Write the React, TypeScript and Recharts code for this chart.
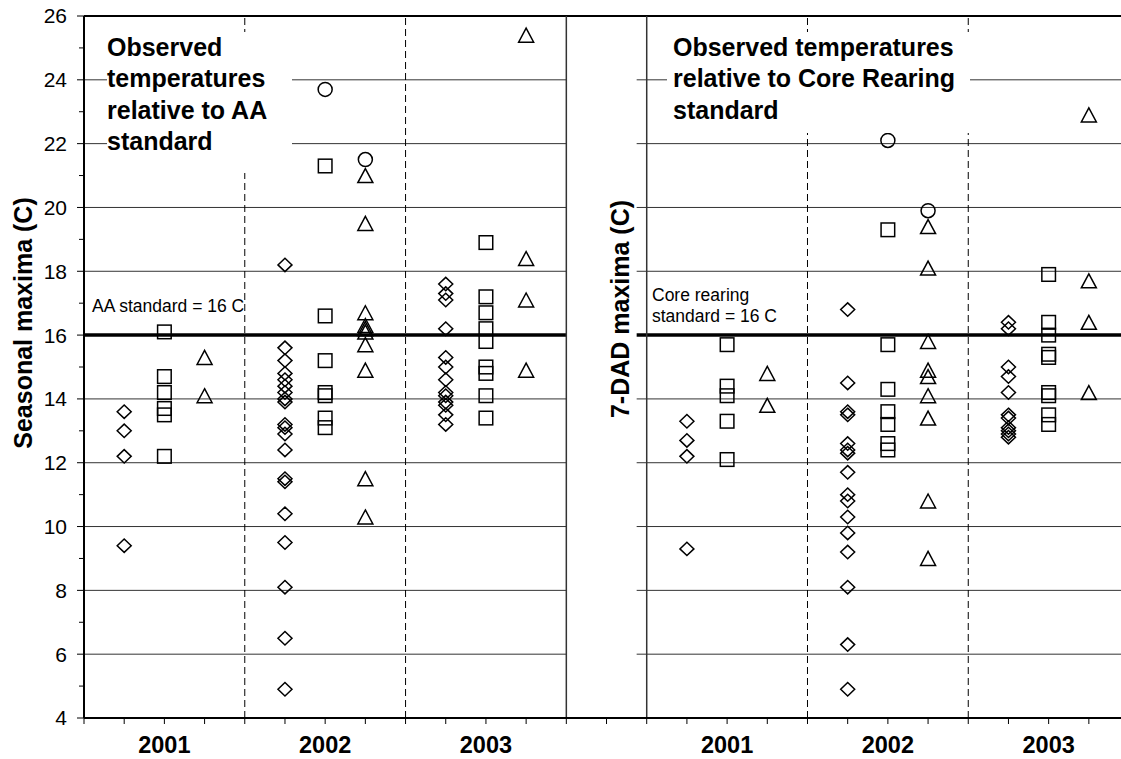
import React from 'react';
import { ScatterChart, Scatter, XAxis, YAxis, ReferenceLine } from 'recharts';

const YEARS = ['2001', '2002', '2003'];

// Seasonal maxima vs AA standard (one list per year)
const AA_DIAMOND = [
  [13.6, 13.0, 12.2, 9.4],
  [18.2, 15.6, 15.2, 14.8, 14.6, 14.4, 14.2, 14.0, 13.9, 13.2, 13.1, 12.9, 12.4, 11.5, 11.4, 10.4, 9.5, 8.1, 6.5, 4.9],
  [17.6, 17.3, 17.1, 16.2, 15.3, 15.0, 14.6, 14.2, 14.1, 13.9, 13.8, 13.5, 13.2],
];
const AA_SQUARE = [
  [16.1, 14.7, 14.2, 13.7, 13.5, 12.2],
  [21.3, 16.6, 15.2, 14.2, 14.1, 13.4, 13.1],
  [18.9, 17.2, 16.7, 16.2, 15.8, 15.0, 14.8, 14.1, 13.4],
];
const AA_TRIANGLE = [
  [15.3, 14.1],
  [21.0, 19.5, 16.7, 16.3, 16.2, 16.1, 15.7, 14.9, 11.5, 10.3],
  [25.4, 18.4, 17.1, 14.9],
];
const AA_CIRCLE_MID = [[], [23.7], []];
const AA_CIRCLE_RIGHT = [[], [21.5], []];

// 7-DAD maxima vs Core Rearing standard
const CR_DIAMOND = [
  [13.3, 12.7, 12.2, 9.3],
  [16.8, 14.5, 13.6, 13.5, 12.6, 12.4, 12.3, 11.7, 11.0, 10.8, 10.3, 9.8, 9.2, 8.1, 6.3, 4.9],
  [16.4, 16.2, 15.0, 14.7, 14.2, 13.5, 13.4, 13.1, 13.0, 12.9, 12.8],
];
const CR_SQUARE = [
  [15.7, 14.4, 14.1, 13.3, 12.1],
  [19.3, 15.7, 14.3, 13.6, 13.2, 12.6, 12.4],
  [17.9, 16.4, 16.0, 15.4, 15.3, 14.2, 14.1, 13.5, 13.2],
];
const CR_TRIANGLE = [
  [14.8, 13.8],
  [19.4, 18.1, 15.8, 14.9, 14.7, 14.1, 13.4, 10.8, 9.0],
  [22.9, 17.7, 16.4, 14.2],
];
const CR_CIRCLE_MID = [[], [22.1], []];
const CR_CIRCLE_RIGHT = [[], [19.9], []];

const STANDARD = 16;
const Y_TICKS = [4, 5, 6, 7, 8, 9, 10, 11, 12, 13, 14, 15, 16, 17, 18, 19, 20, 21, 22, 23, 24, 25, 26];
const GRID_VALUES = [6, 8, 10, 12, 14, 18, 20, 22, 24];
const X_TICKS = [0, 1, 2, 3, 4, 5, 6, 7, 8, 9, 10, 11, 12, 13, 14, 15, 16, 17, 18, 19, 20, 21, 22, 23, 24, 25];

// category layout on the shared x axis
const PANELS = [0, 14];
const YEAR_SPAN = 4;
const X_MAX = 25.8;
const RIGHT_START = 13.75;

const FONT = '"Liberation Sans", Arial, sans-serif';

const toPoints = (groups: number[][], panel: number, slot: number) =>
  groups.flatMap((vals, yi) => vals.map((v) => ({ x: panel + yi * YEAR_SPAN + slot, y: v })));

const yearAt = (v: number) => {
  for (const p of PANELS) {
    for (let i = 0; i < YEARS.length; i++) {
      if (p + i * YEAR_SPAN + 2 === v) return YEARS[i];
    }
  }
  return '';
};

const stroke = { fill: 'none', stroke: '#000', strokeWidth: 1.5 };

const diamond = (p: any) => (
  <path d={`M${p.cx},${p.cy - 6.7}L${p.cx + 7},${p.cy}L${p.cx},${p.cy + 6.7}L${p.cx - 7},${p.cy}Z`} {...stroke} />
);
const square = (p: any) => <rect x={p.cx - 6.8} y={p.cy - 6.8} width={13.6} height={13.6} {...stroke} />;
const triangle = (p: any) => (
  <path d={`M${p.cx},${p.cy - 7}L${p.cx + 7.5},${p.cy + 7}L${p.cx - 7.5},${p.cy + 7}Z`} {...stroke} />
);
const circle = (p: any) => <circle cx={p.cx} cy={p.cy} r={7} {...stroke} />;

const YTick = (props: any) => {
  const { x, y, payload } = props;
  const major = payload.value % 2 === 0;
  return (
    <g>
      <line x1={x - (major ? 7 : 5)} x2={x} y1={y} y2={y} stroke="#000" strokeWidth={1} />
      {major && (
        <text x={x - 17} y={y} dy="0.355em" textAnchor="end" fontSize={21} fontFamily={FONT} fill="#000">
          {payload.value}
        </text>
      )}
    </g>
  );
};

const XTick = (props: any) => {
  const { x, y, payload } = props;
  const label = yearAt(payload.value);
  return (
    <g>
      <line x1={x} x2={x} y1={y} y2={y + 6} stroke="#000" strokeWidth={1} />
      {label && (
        <text x={x} y={y + 27} dy="0.355em" textAnchor="middle" fontSize={23.5} fontWeight="bold" fontFamily={FONT} fill="#000">
          {label}
        </text>
      )}
    </g>
  );
};

const series = [
  { data: [...toPoints(AA_DIAMOND, PANELS[0], 1), ...toPoints(CR_DIAMOND, PANELS[1], 1)], shape: diamond },
  { data: [...toPoints(AA_SQUARE, PANELS[0], 2), ...toPoints(CR_SQUARE, PANELS[1], 2)], shape: square },
  { data: [...toPoints(AA_TRIANGLE, PANELS[0], 3), ...toPoints(CR_TRIANGLE, PANELS[1], 3)], shape: triangle },
  {
    data: [
      ...toPoints(AA_CIRCLE_MID, PANELS[0], 2),
      ...toPoints(AA_CIRCLE_RIGHT, PANELS[0], 3),
      ...toPoints(CR_CIRCLE_MID, PANELS[1], 2),
      ...toPoints(CR_CIRCLE_RIGHT, PANELS[1], 3),
    ],
    shape: circle,
  },
];

const titleStyle: React.CSSProperties = {
  position: 'absolute',
  background: '#fff',
  fontSize: 25,
  fontWeight: 'bold',
  lineHeight: '31.3px',
  whiteSpace: 'nowrap',
};

const axisTitle: React.CSSProperties = {
  position: 'absolute',
  transform: 'translate(-50%, -50%) rotate(-90deg)',
  fontSize: 25,
  fontWeight: 'bold',
  whiteSpace: 'nowrap',
  lineHeight: '28px',
};

export default function App() {
  return (
    <div style={{ position: 'relative', width: 1121, height: 759, background: '#fff', fontFamily: FONT, color: '#000', overflow: 'hidden' }}>
      <style>{'body{margin:0}'}</style>
      <ScatterChart width={1121} height={759} margin={{ top: 16, right: 0, bottom: 0, left: 0 }}>
        <XAxis
          type="number"
          dataKey="x"
          domain={[0, X_MAX]}
          ticks={X_TICKS}
          interval={0}
          tick={(p: any) => <XTick {...p} />}
          tickSize={0}
          tickMargin={0}
          tickLine={false}
          axisLine={{ stroke: '#000', strokeWidth: 2 }}
          height={41}
          allowDataOverflow
        />
        <YAxis
          type="number"
          dataKey="y"
          domain={[4, 26]}
          ticks={Y_TICKS}
          interval={0}
          tick={(p: any) => <YTick {...p} />}
          tickSize={0}
          tickMargin={0}
          tickLine={false}
          axisLine={{ stroke: '#000', strokeWidth: 2 }}
          width={84}
        />

        {GRID_VALUES.map((v) => (
          <ReferenceLine key={`gl${v}`} segment={[{ x: 0, y: v }, { x: 12, y: v }]} stroke="#333" strokeWidth={1} />
        ))}
        {GRID_VALUES.map((v) => (
          <ReferenceLine key={`gr${v}`} segment={[{ x: RIGHT_START, y: v }, { x: X_MAX, y: v }]} stroke="#333" strokeWidth={1} />
        ))}
        <ReferenceLine segment={[{ x: 0, y: STANDARD }, { x: 12, y: STANDARD }]} stroke="#000" strokeWidth={3.5} />
        <ReferenceLine segment={[{ x: RIGHT_START, y: STANDARD }, { x: X_MAX, y: STANDARD }]} stroke="#000" strokeWidth={3.5} />
        <ReferenceLine y={26} stroke="#000" strokeWidth={2} />
        <ReferenceLine x={12} stroke="#333" strokeWidth={1.5} />
        <ReferenceLine x={14} stroke="#333" strokeWidth={1.5} />
        {PANELS.flatMap((p) => [p + YEAR_SPAN, p + 2 * YEAR_SPAN]).map((v) => (
          <ReferenceLine key={`d${v}`} x={v} stroke="#000" strokeWidth={1} strokeDasharray="7 4" />
        ))}

        {series.map((s, i) => (
          <Scatter key={i} data={s.data} shape={s.shape} isAnimationActive={false} />
        ))}
      </ScatterChart>

      <div style={{ ...titleStyle, left: 107, top: 32, width: 185, height: 141 }}>
        Observed
        <br />
        temperatures
        <br />
        relative to AA
        <br />
        standard
      </div>
      <div style={{ ...titleStyle, left: 667, top: 32, width: 297, height: 101, paddingLeft: 6 }}>
        Observed temperatures
        <br />
        relative to Core Rearing
        <br />
        standard
      </div>

      <div style={{ position: 'absolute', left: 92, top: 296, fontSize: 17.5, lineHeight: '20px', whiteSpace: 'nowrap' }}>
        AA standard = 16 C
      </div>
      <div style={{ position: 'absolute', left: 652, top: 285, fontSize: 17.5, lineHeight: '21px', whiteSpace: 'nowrap' }}>
        Core rearing
        <br />
        standard = 16 C
      </div>

      <div style={{ ...axisTitle, left: 23, top: 323 }}>Seasonal maxima (C)</div>
      <div style={{ ...axisTitle, left: 620, top: 309 }}>7-DAD maxima (C)</div>
    </div>
  );
}
